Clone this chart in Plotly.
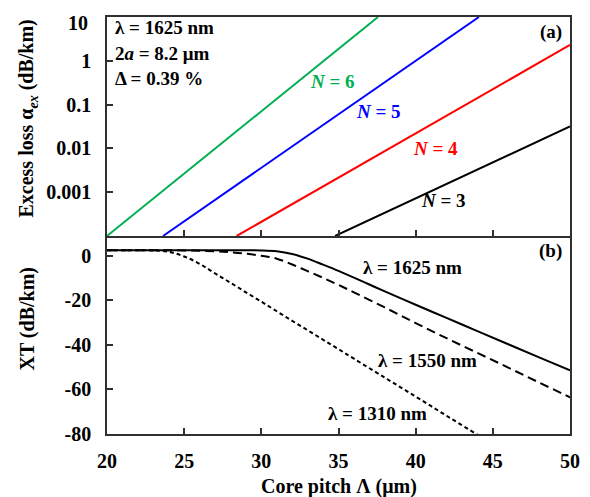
import plotly.graph_objects as go

# ---- data: panel (a) excess loss (straight lines on log scale) ----
n6_x = [20.0, 37.56]
n6_y = [1e-4, 10.0]
n5_x = [23.63, 44.1]
n5_y = [1e-4, 10.0]
n4_x = [28.4, 50.0]
n4_y = [1e-4, 2.3]
n3_x = [34.78, 50.0]
n3_y = [1e-4, 0.0316]

# ---- data: panel (b) crosstalk ----
xt1625_x = [20, 28, 30, 31, 32, 33, 34, 35, 36, 37, 38, 40, 42, 44, 46, 48, 50]
xt1625_y = [2.5, 2.5, 2.4, 2.0, 0.8, -1.3, -4.0, -6.8, -9.8, -12.9, -16.0, -22.0, -27.9, -33.8, -39.7, -45.6, -51.4]
xt1550_x = [20, 25, 27, 28, 29, 30, 31, 32, 33, 34, 35, 36, 38, 40, 42, 44, 46, 48, 50]
xt1550_y = [2.5, 2.4, 2.0, 1.6, 1.0, 0.0, -1.3, -3.9, -6.9, -9.9, -13.1, -16.4, -23.2, -30.2, -37.0, -43.6, -50.2, -56.9, -63.5]
xt1310_x = [20, 22, 23, 24, 25, 26, 27, 28, 29, 30, 31, 32, 33, 34, 35, 36, 38, 40, 42, 44, 45]
xt1310_y = [2.5, 2.5, 2.4, 1.8, -0.3, -3.6, -7.9, -12.1, -16.4, -20.6, -24.9, -29.2, -33.4, -37.7, -41.9, -46.2, -54.7, -63.2, -71.8, -80.3, -84.5]

x_ticks = [20, 25, 30, 35, 40, 45, 50]
ya_tickvals = [1e-3, 1e-2, 0.1, 1, 10]
ya_ticktext = ["0.001", "0.01", "0.1", "1", "10"]
yb_ticks = [0, -20, -40, -60, -80]
yb_ticktext = ["0", "-20", "-40", "-60", "-80"]

FONT = "Liberation Serif, Times New Roman, serif"
AX = "#303030"
PAD = "\u00a0\u00a0"

# page body has an 8px margin: figure is sized so plot area lands where the reference has it
W, H = 582, 489
ML, MR, MT, MB = 99, 20, 7, 63
PW, PH = W - ML - MR, H - MT - MB   # 463 x 419

fig = go.Figure()
for xs, ys, c in [(n6_x, n6_y, "#00B050"), (n5_x, n5_y, "#0000FF"),
                  (n4_x, n4_y, "#FF0000"), (n3_x, n3_y, "#000000")]:
    fig.add_trace(go.Scatter(x=xs, y=ys, mode="lines", xaxis="x2", yaxis="y2",
                             line=dict(color=c, width=2), showlegend=False))

fig.add_trace(go.Scatter(x=xt1625_x, y=xt1625_y, mode="lines", line=dict(color="black", width=2, shape="spline"), showlegend=False))
fig.add_trace(go.Scatter(x=xt1550_x, y=xt1550_y, mode="lines", line=dict(color="black", width=2, dash="9px,5px", shape="spline"), showlegend=False))
fig.add_trace(go.Scatter(x=xt1310_x, y=xt1310_y, mode="lines", line=dict(color="black", width=2, dash="4px,3px", shape="spline"), showlegend=False))

split = 199 / PH
TF = dict(family=FONT, size=20, color="black", weight="bold")

# top tick label "10" sits at the very top edge; it is drawn as an annotation below
ya_text_axis = [t + PAD for t in ya_ticktext[:-1]] + [""]

common_x = dict(range=[20, 50], tickvals=x_ticks, ticks="inside", ticklen=6, tickwidth=1.5,
                tickcolor=AX, showline=True, linecolor=AX, linewidth=1.5,
                showgrid=False, zeroline=False)
fig.update_layout(
    width=W, height=H,
    margin=dict(l=ML, r=MR, t=MT, b=MB),
    plot_bgcolor="white", paper_bgcolor="white",
    font=dict(family=FONT, size=19, color="black"),
    xaxis=dict(**common_x, anchor="y", mirror=False, ticklabelstandoff=8, tickfont=TF),
    xaxis2=dict(**common_x, anchor="y2", mirror=True, matches="x", showticklabels=False),
    yaxis=dict(domain=[0, split], range=[-80, 8.9], tickvals=yb_ticks,
               ticktext=[t + PAD for t in yb_ticktext],
               ticks="inside", ticklen=6, tickwidth=1.5, tickcolor=AX, showline=True,
               linecolor=AX, linewidth=1.5, mirror=True, showgrid=False, zeroline=False,
               tickfont=TF),
    yaxis2=dict(domain=[split, 1], type="log", range=[-4, 1], tickvals=ya_tickvals,
                ticktext=ya_text_axis, ticks="inside", ticklen=6, tickwidth=1.5, tickcolor=AX,
                showline=True, linecolor=AX, linewidth=1.5, mirror=True, showgrid=False,
                zeroline=False, tickfont=TF),
)

def ann(text, x, y, xref, yref, color="black", size=19, xanchor="center", yanchor="middle", angle=0):
    fig.add_annotation(text="<b>" + text + "</b>", x=x, y=y, xref=xref, yref=yref,
                       showarrow=False, xanchor=xanchor, yanchor=yanchor, textangle=angle,
                       font=dict(family=FONT, size=size, color=color))

# top y tick label (box top aligned to the figure's top edge)
ann(ya_ticktext[-1], -17 / PW, 1.0 + MT / PH, "paper", "paper", size=20, xanchor="right", yanchor="top")

# panel (a) texts
ann("λ = 1625 nm", 20.39, 0.75, "x2", "y2", xanchor="left")
ann("2<i>a</i> = 8.2 μm", 20.39, 0.16, "x2", "y2", xanchor="left")
ann("Δ = 0.39 %", 20.39, -0.41, "x2", "y2", xanchor="left")
ann("(a)", 49.6, 0.66, "x2", "y2", xanchor="right")
ann("<i>N</i> = 6", 34.58, -0.477, "x2", "y2", color="#00B050")
ann("<i>N</i> = 5", 37.56, -1.16, "x2", "y2", color="#0000FF")
ann("<i>N</i> = 4", 41.26, -2.0, "x2", "y2", color="#FF0000")
ann("<i>N</i> = 3", 41.78, -3.2, "x2", "y2", color="black")

# panel (b) texts
ann("(b)", 49.6, 2.2, "x", "y", xanchor="right")
ann("λ = 1625 nm", 39.77, -5.3, "x", "y")
ann("λ = 1550 nm", 40.74, -47.0, "x", "y")
ann("λ = 1310 nm", 37.5, -71.0, "x", "y")

# axis titles
ann("Core pitch Λ (μm)", 0.5, -(487 - 434) / PH, "paper", "paper", size=20)
ann("Excess loss α<sub><i>ex</i></sub> (dB/km)", (28 - 107) / PW, (434 - 117) / PH, "paper", "paper", size=20, angle=-90)
ann("XT (dB/km)", (28 - 107) / PW, (434 - 318) / PH, "paper", "paper", size=20, angle=-90)

fig.write_html("out.html")
